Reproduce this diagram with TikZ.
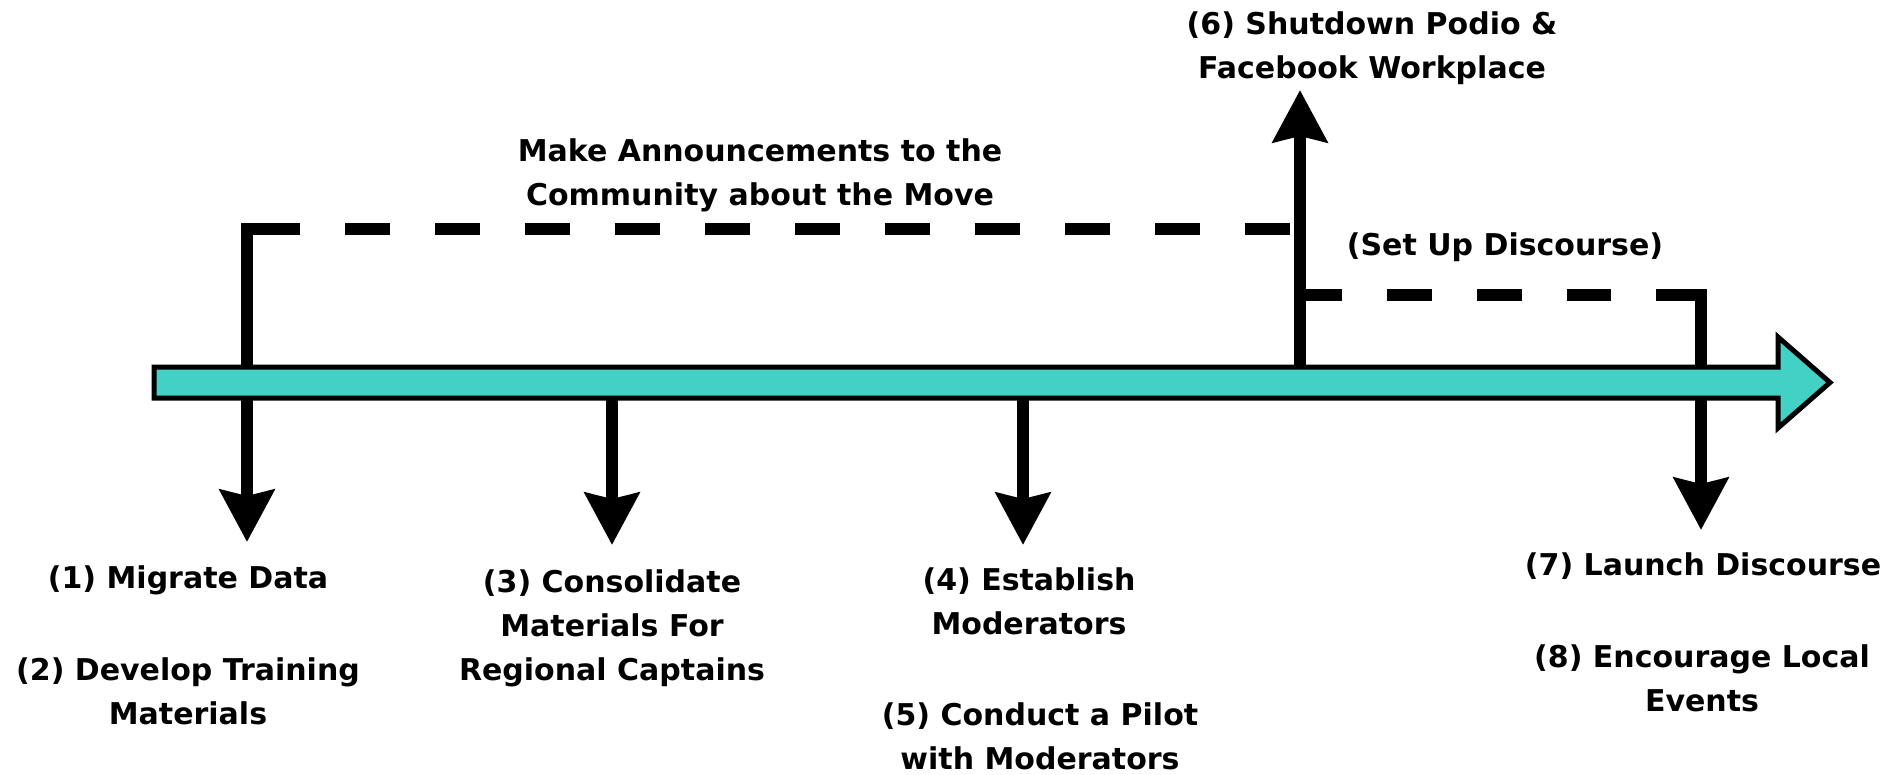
\documentclass[tikz,border=0pt]{standalone}
\usepackage{fontspec}
\setmainfont{DejaVu Sans}
\usetikzlibrary{arrows.meta}
\definecolor{tealfill}{RGB}{66,209,196}
\begin{document}
\begin{tikzpicture}[x=0.5pt,y=-0.5pt,
  lbl/.style={font=\bfseries\fontsize{15}{22}\selectfont, align=center, inner sep=0pt},
  conn/.style={line width=6pt, line join=miter},
  dsh/.style={line width=6pt, dash pattern=on 22.5pt off 22.5pt},
  tip/.style={-{Stealth[length=26pt,width=27pt,inset=3pt]}},
  mainarrow/.style={fill=tealfill, draw=black, line width=2.5pt, line join=miter}
]
\useasboundingbox (0,0) rectangle (1901,775);

% coordinates
\coordinate (c1top) at (247,229);
\coordinate (c1end) at (300,229);
\coordinate (c1tip) at (247,542);
\coordinate (d1s) at (345,229);
\coordinate (d1e) at (1296,229);
\coordinate (upbase) at (1300,382);
\coordinate (uptip) at (1300,90);
\coordinate (d2s) at (1297,295);
\coordinate (d2e) at (1611,295);
\coordinate (c7s) at (1656,295);
\coordinate (c7c) at (1701,295);
\coordinate (c7tip) at (1701,530);
\coordinate (a3s) at (612,382);
\coordinate (a3tip) at (612,545);
\coordinate (a4s) at (1023,382);
\coordinate (a4tip) at (1023,545);

% connectors
\draw[conn,tip] (c1end) -- (c1top) -- (c1tip);
\draw[dsh] (d1s) -- (d1e);
\draw[conn,tip] (upbase) -- (uptip);
\draw[dsh] (d2s) -- (d2e);
\draw[conn,tip] (c7s) -- (c7c) -- (c7tip);
\draw[conn,tip] (a3s) -- (a3tip);
\draw[conn,tip] (a4s) -- (a4tip);

% main timeline arrow
\draw[mainarrow] (154,367) -- (1778,367) -- (1778,337) -- (1830,382.5) -- (1778,428) -- (1778,398) -- (154,398) -- cycle;

% labels
\node[lbl] (six) at (1372,48.5) {(6) Shutdown Podio \&\\Facebook Workplace};
\node[lbl] (announce) at (760,175) {Make Announcements to the\\Community about the Move};
\node[lbl] (setup) at (1505,247) {(Set Up Discourse)};
\node[lbl] (one) at (188,580) {(1) Migrate Data};
\node[lbl] (two) at (188,691.5) {(2) Develop Training\\Materials};
\node[lbl] (three) at (612,628) {(3) Consolidate\\Materials For\\Regional Captains};
\node[lbl] (four) at (1029,601) {(4) Establish\\Moderators};
\node[lbl] (five) at (1040,736) {(5) Conduct a Pilot\\with Moderators};
\node[lbl] (seven) at (1703,566) {(7) Launch Discourse};
\node[lbl] (eight) at (1702,678.5) {(8) Encourage Local\\Events};
\end{tikzpicture}
\end{document}
